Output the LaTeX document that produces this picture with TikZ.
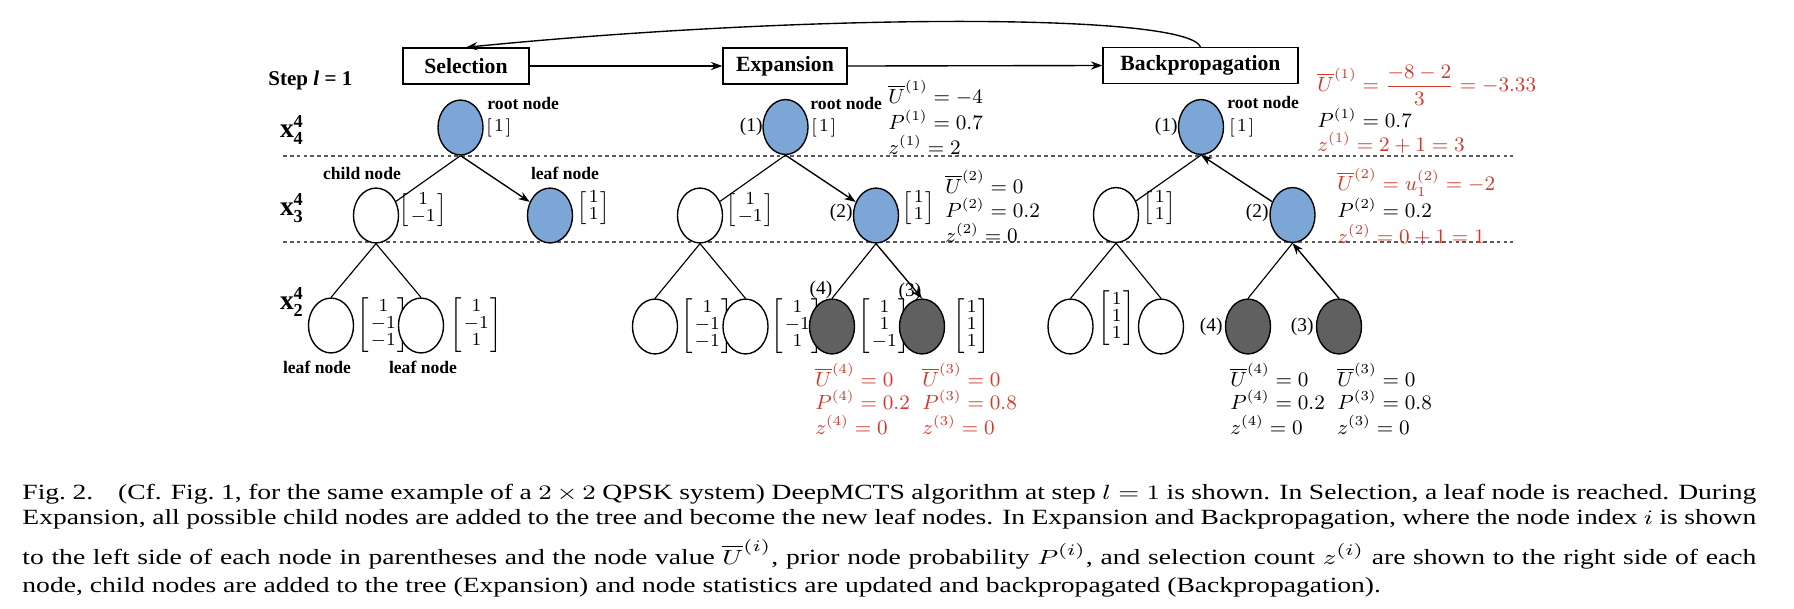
\documentclass[tikz,border=0pt]{standalone}
\usepackage{amsmath}
\usepackage{graphicx}
\usepackage{fontspec}
\setmainfont{Liberation Serif}
\usetikzlibrary{shapes.geometric,arrows.meta}
\definecolor{nblue}{RGB}{123,166,214}
\definecolor{ngray}{RGB}{96,96,96}
\definecolor{nred}{RGB}{210,56,42}
\definecolor{dashgray}{RGB}{90,90,90}
\newcommand{\vm}[1]{{\fontsize{8.4}{9.6}\selectfont\renewcommand{\arraystretch}{0.78}\nulldelimiterspace=0pt$\left[\begin{array}{@{\mkern2mu}c@{\mkern2mu}}#1\end{array}\right]$}}
\newcommand{\capline}[1]{\scalebox{1.27}[1]{\makebox[597.3pt][s]{#1}}}
\begin{document}
\begin{tikzpicture}[x=0.4375pt,y=-0.4375pt,
  stagebox/.style={draw,line width=0.6pt,inner sep=0pt,minimum height=15.75pt,font=\bfseries\fontsize{9.5}{11}\selectfont},
  nd/.style={ellipse,draw,line width=0.6pt,minimum width=19.7pt,minimum height=24pt,inner sep=0pt},
  bnode/.style={nd,fill=nblue},
  dnode/.style={nd,fill=ngray},
  wnode/.style={nd,fill=white},
  lbl/.style={font=\bfseries\fontsize{7.7}{9}\selectfont,inner sep=0pt},
  idx/.style={font=\fontsize{8.5}{10}\selectfont,inner sep=0pt},
  stat/.style={anchor=west,inner sep=0pt,font=\fontsize{9}{10}\selectfont},
  vec/.style={anchor=west,inner sep=0pt},
  edge/.style={line width=0.5pt},
  arr/.style={line width=0.6pt,-{Stealth[length=5pt,width=3.6pt]}},
  dline/.style={dashgray,line width=0.5pt,dash pattern=on 1.6pt off 1.4pt},
  lev/.style={inner sep=0pt,font=\fontsize{12}{14}\selectfont},
  capt/.style={anchor=base west,inner sep=0pt,font=\fontsize{9.5}{11}\selectfont}
]
\useasboundingbox (0,0) rectangle (1794,608);

% stage boxes
\node[stagebox,minimum width=55.1pt] (sel) at (466,66) {Selection};
\node[stagebox,minimum width=54.25pt] (exp) at (785,66) {Expansion};
\node[stagebox,minimum width=85.3pt] (bp) at (1200.5,65.5) {Backpropagation};
\draw[arr] (sel.east) -- (exp.west);
\draw[arr] (exp.east) -- (bp.west);
\draw[arr] (bp.north) .. controls (1185,12) and (800,14) .. (sel.north);

\node[anchor=base west,inner sep=0pt,font=\bfseries\fontsize{9.2}{11}\selectfont] (step) at (268,85) {Step \textit{l} = 1};

% level labels
\node[lev] (x4) at (292,130) {$\mathbf{x}_{\mathbf{4}}^{\mathbf{4}}$};
\node[lev] (x3) at (292,208) {$\mathbf{x}_{\mathbf{3}}^{\mathbf{4}}$};
\node[lev] (x2) at (292,302) {$\mathbf{x}_{\mathbf{2}}^{\mathbf{4}}$};

% dashed separators
\coordinate (d1a) at (283,156); \coordinate (d1b) at (1513,156);
\coordinate (d2a) at (283,242); \coordinate (d2b) at (1513,242);
\draw[dline] (d1a) -- (d1b);
\draw[dline] (d2a) -- (d2b);

% ---------------- Selection tree
\node[bnode] (s1) at (460.5,127.5) {};
\node[lbl,anchor=west] (s1l) at (487,103) {root node};
\node[vec] (s1v) at (486,128) {\vm{1}};
\node[wnode] (s2) at (376,215.5) {};
\node[lbl] (s2l) at (362,173) {child node};
\node[vec] (s2v) at (399,210) {\vm{1\\-1}};
\node[bnode] (s3) at (550,215.5) {};
\node[lbl] (s3l) at (565,173) {leaf node};
\node[vec] (s3v) at (577,208) {\vm{1\\1}};
\node[wnode] (s4) at (331,325.5) {};
\node[vec] (s4v) at (357,325) {\vm{1\\-1\\-1}};
\node[wnode] (s5) at (421,325.5) {};
\node[vec] (s5v) at (450,325) {\vm{1\\-1\\1}};
\node[lbl] (s4l) at (317,367) {leaf node};
\node[lbl] (s5l) at (423,367) {leaf node};
\draw[edge] (s1.south) -- (s2);
\draw[arr] (s1.south) -- (s3);
\draw[edge] (s2.south) -- (s4.north);
\draw[edge] (s2.south) -- (s5.north);

% ---------------- Expansion tree
\node[bnode] (e1) at (785.5,127) {};
\node[idx,anchor=east] (e1i) at (763,127) {(1)};
\node[vec] (e1v) at (811,128) {\vm{1}};
\node[lbl,anchor=west] (e1l) at (810,103) {root node};
\node[stat] (e1u) at (888,93) {$\overline{U}^{(1)} = -4$};
\node[stat] (e1p) at (888,120) {$P^{(1)} = 0.7$};
\node[stat] (e1z) at (888,145) {$z^{(1)} = 2$};
\node[wnode] (e2) at (700,215.5) {};
\node[vec] (e2v) at (726,210) {\vm{1\\-1}};
\node[bnode] (e3) at (876,215.5) {};
\node[idx,anchor=east] (e3i) at (853,213) {(2)};
\node[vec] (e3v) at (902,208) {\vm{1\\1}};
\node[stat] (e3u) at (945,182) {$\overline{U}^{(2)} = 0$};
\node[stat] (e3p) at (945,208) {$P^{(2)} = 0.2$};
\node[stat] (e3z) at (945,233) {$z^{(2)} = 0$};
\node[wnode] (e4) at (655,326.5) {};
\node[vec] (e4v) at (681,326) {\vm{1\\-1\\-1}};
\node[wnode] (e5) at (745.5,326.5) {};
\node[vec] (e5v) at (771,326) {\vm{1\\-1\\1}};
\node[dnode] (e6) at (832,326.5) {};
\node[idx] (e6i) at (821,290) {(4)};
\node[vec] (e6v) at (858,326) {\vm{1\\1\\-1}};
\node[dnode] (e7) at (922,326.5) {};
\node[idx] (e7i) at (910,292) {(3)};
\node[vec] (e7v) at (953,326) {\vm{1\\1\\1}};
\node[stat,text=nred] (e6u) at (815,375) {$\overline{U}^{(4)} = 0$};
\node[stat,text=nred] (e6p) at (815,400) {$P^{(4)} = 0.2$};
\node[stat,text=nred] (e6z) at (815,425) {$z^{(4)} = 0$};
\node[stat,text=nred] (e7u) at (922,375) {$\overline{U}^{(3)} = 0$};
\node[stat,text=nred] (e7p) at (922,400) {$P^{(3)} = 0.8$};
\node[stat,text=nred] (e7z) at (922,425) {$z^{(3)} = 0$};
\draw[edge] (e1.south) -- (e2);
\draw[arr] (e1.south) -- (e3);
\draw[edge] (e2.south) -- (e4.north);
\draw[edge] (e2.south) -- (e5.north);
\draw[edge] (e3.south) -- (e6.north);
\draw[arr] (e3.south) -- (e7.north);

% ---------------- Backpropagation tree
\node[bnode] (b1) at (1201,127) {};
\node[idx,anchor=east] (b1i) at (1178,127) {(1)};
\node[vec] (b1v) at (1229,128) {\vm{1}};
\node[lbl,anchor=west] (b1l) at (1227,102) {root node};
\node[stat,text=nred] (b1u) at (1317,85) {$\overline{U}^{(1)} = \dfrac{-8-2}{3} = -3.33$};
\node[stat] (b1p) at (1317,118) {$P^{(1)} = 0.7$};
\node[stat,text=nred] (b1z) at (1317,143) {$z^{(1)} = 2+1 = 3$};
\node[wnode] (b2) at (1116,215) {};
\node[vec] (b2v) at (1143,208) {\vm{1\\1}};
\node[bnode] (b3) at (1292.5,215) {};
\node[idx,anchor=east] (b3i) at (1269,213) {(2)};
\node[stat,text=nred] (b3u) at (1337,182) {$\overline{U}^{(2)} = u_1^{(2)} = -2$};
\node[stat] (b3p) at (1337,208) {$P^{(2)} = 0.2$};
\node[stat,text=nred] (b3z) at (1337,235) {$z^{(2)} = 0+1 = 1$};
\node[wnode] (b4) at (1070.5,326.5) {};
\node[vec] (b4v) at (1098,318) {\vm{1\\1\\1}};
\node[wnode] (b5) at (1161,326.5) {};
\node[dnode] (b6) at (1248,326.5) {};
\node[idx,anchor=east] (b6i) at (1223,327) {(4)};
\node[dnode] (b7) at (1339,326.5) {};
\node[idx,anchor=east] (b7i) at (1314,327) {(3)};
\node[stat] (b6u) at (1230,375) {$\overline{U}^{(4)} = 0$};
\node[stat] (b6p) at (1230,400) {$P^{(4)} = 0.2$};
\node[stat] (b6z) at (1230,425) {$z^{(4)} = 0$};
\node[stat] (b7u) at (1337,375) {$\overline{U}^{(3)} = 0$};
\node[stat] (b7p) at (1337,400) {$P^{(3)} = 0.8$};
\node[stat] (b7z) at (1337,425) {$z^{(3)} = 0$};
\draw[edge] (b1.south) -- (b2);
\draw[arr] (b3) -- (b1.south);
\draw[edge] (b2.south) -- (b4.north);
\draw[edge] (b2.south) -- (b5.north);
\draw[edge] (b3.south) -- (b6.north);
\draw[arr] (b7.north) -- (b3.south);

% ---------------- caption
\node[capt] (cap1) at (22,499) {\capline{Fig.~2.\hspace{0.9em}(Cf. Fig.~1, for the same example of a $2\times 2$ QPSK system) DeepMCTS algorithm at step $l=1$ is shown. In Selection, a leaf node is reached. During}};
\node[capt] (cap2) at (22,524) {\capline{Expansion, all possible child nodes are added to the tree and become the new leaf nodes. In Expansion and Backpropagation, where the node index $i$ is shown}};
\node[capt] (cap3) at (22,564) {\capline{to the left side of each node in parentheses and the node value $\overline{U}^{(i)}$, prior node probability $P^{(i)}$, and selection count $z^{(i)}$ are shown to the right side of each}};
\node[capt] (cap4) at (22,592) {\scalebox{1.27}[1]{node, child nodes are added to the tree (Expansion) and node statistics are updated and backpropagated (Backpropagation).}};
\end{tikzpicture}
\end{document}
